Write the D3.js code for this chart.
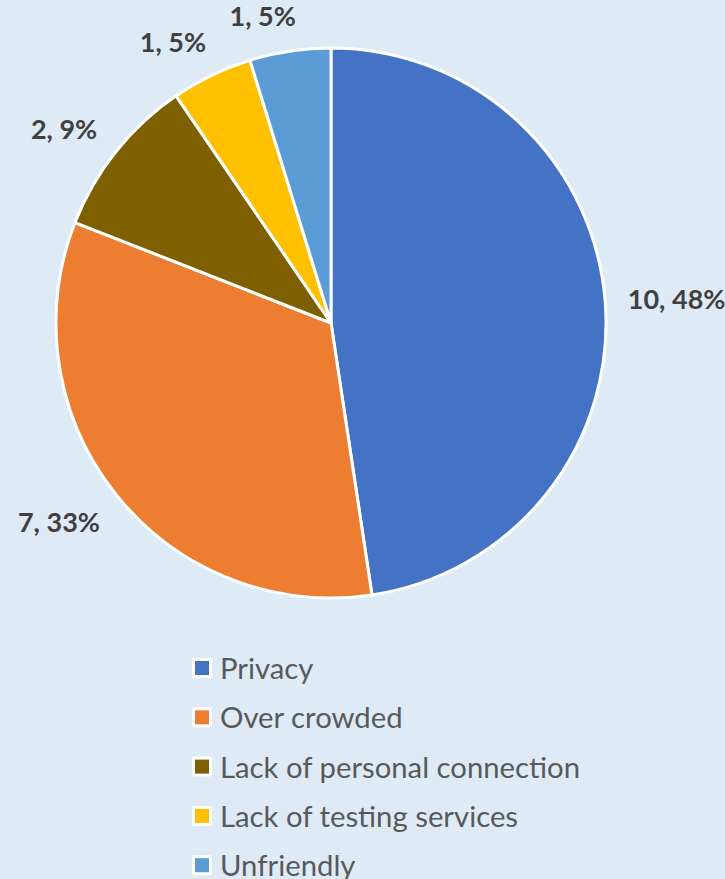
<!DOCTYPE html>
<html lang="en">
<head>
    <meta charset="UTF-8">
    <script src="https://d3js.org/d3.v7.min.js"></script>
    <style>
        body { margin: 0; background: #DEEBF7; }
        svg { display: block; }
    </style>
    <title>Reasons pie</title>
</head>
<body>

<div id="chart"></div>

<script>
    const width = 725;
    const height = 879;

    // data
    const categories = ["Privacy", "Over crowded", "Lack of personal connection", "Lack of testing services", "Unfriendly"];
    const counts = [10, 7, 2, 1, 1];
    const percentLabels = ["48%", "33%", "9%", "5%", "5%"];
    const colors = ["#4472C4", "#ED7D31", "#7F6000", "#FFC000", "#5B9BD5"];

    const cx = 331, cy = 323, radius = 275;
    const labelGap = 22;
    const labelSpread = 4 * Math.PI / 180; // labels drift a little toward the horizontal

    const svg = d3.select("#chart")
        .append("svg")
        .attr("width", width)
        .attr("height", height);

    svg.append("rect")
        .attr("width", width)
        .attr("height", height)
        .attr("fill", "#DEEBF7");

    const slices = categories.map((c, i) => ({ name: c, value: counts[i], pct: percentLabels[i], color: colors[i] }));

    const pie = d3.pie().value(d => d.value).sort(null);
    const arc = d3.arc().innerRadius(0).outerRadius(radius);
    const arcs = pie(slices);

    const g = svg.append("g").attr("transform", `translate(${cx},${cy})`);

    g.selectAll(".slice")
        .data(arcs)
        .enter().append("path")
        .attr("class", "slice")
        .attr("d", arc)
        .attr("fill", d => d.data.color)
        .attr("stroke", "#fff")
        .attr("stroke-width", 3)
        .attr("stroke-linejoin", "round");

    // data labels sit just outside the rim, pushed out by half their size
    const labels = g.selectAll(".label")
        .data(arcs)
        .enter().append("text")
        .attr("class", "label")
        .attr("text-anchor", "middle")
        .attr("dominant-baseline", "central")
        .style("font-family", "Lato, 'Open Sans', sans-serif")
        .style("font-weight", "bold")
        .style("font-size", "27px")
        .style("fill", "#404040")
        .text(d => `${d.data.value}, ${d.data.pct}`);

    labels.each(function(d) {
        let a = (d.startAngle + d.endAngle) / 2;
        const s0 = Math.sin(a), c0 = Math.cos(a);
        a += labelSpread * Math.abs(c0) * Math.sign(s0) * Math.sign(c0);
        const s = Math.sin(a), c = Math.cos(a);
        const halfW = this.getComputedTextLength() / 2;
        const halfH = 11;
        const rr = radius + labelGap + halfW * Math.abs(s) + halfH * Math.abs(c);
        d3.select(this)
            .attr("x", rr * s)
            .attr("y", -rr * c);
    });

    // legend
    const legendX = 192, legendY = 679, rowH = 49.3;
    const legend = svg.selectAll(".legend-item")
        .data(slices)
        .enter().append("g")
        .attr("class", "legend-item")
        .attr("transform", (d, i) => `translate(${legendX},${legendY + i * rowH})`);

    legend.append("rect")
        .attr("x", 0)
        .attr("y", -21)
        .attr("width", 20)
        .attr("height", 20)
        .attr("rx", 2)
        .attr("fill", "#fff");

    legend.append("rect")
        .attr("x", 3)
        .attr("y", -18)
        .attr("width", 14)
        .attr("height", 14)
        .attr("fill", d => d.color);

    legend.append("text")
        .attr("x", 28)
        .attr("y", 0)
        .style("font-family", "Lato, 'Open Sans', sans-serif")
        .style("font-size", "29.3px")
        .style("fill", "#595959")
        .text(d => d.name);
</script>

</body>
</html>
